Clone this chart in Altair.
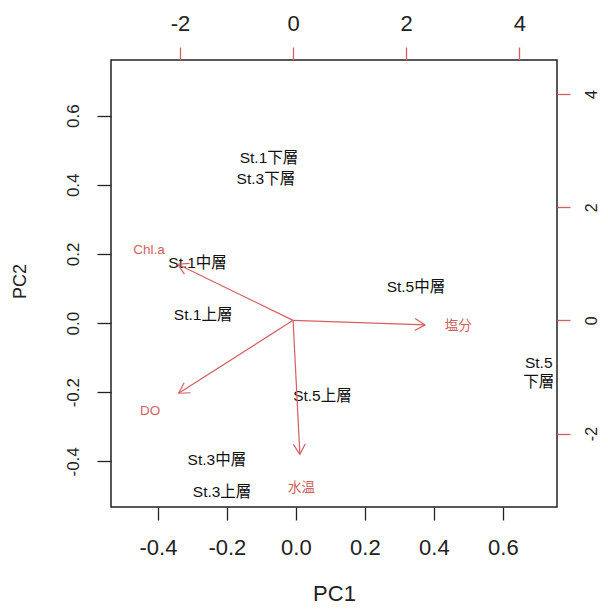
import altair as alt
import pandas as pd
import numpy as np

# ---- observation scores (PC1, PC2) ----
obs_labels = ["St.1下層", "St.3下層", "St.1中層", "St.1上層", "St.5中層",
              "St.5上層", "St.5\n下層", "St.3中層", "St.3上層"]
obs_pc1 = [-0.078, -0.087, -0.285, -0.269, 0.348, 0.077, 0.704, -0.229, -0.214]
obs_pc2 = [0.477, 0.416, 0.174, 0.022, 0.104, -0.210, -0.115, -0.396, -0.490]

# ---- variable loadings (secondary axes) ----
var_labels = ["Chl.a", "塩分", "DO", "水温"]
var_x = [-2.55, 2.92, -2.53, 0.15]
var_y = [1.24, -0.10, -1.61, -2.96]

pc_ticks = [-0.4, -0.2, 0.0, 0.2, 0.4, 0.6]
var_ticks = [-2, 0, 2, 4]

pc1_domain = [-0.536, 0.757]
pc2_domain = [-0.532, 0.761]
v1_domain = [-3.22, 4.667]
v2_domain = [-3.298, 4.601]

RED = "#d45f5f"
INK = "#222222"
LAT = "Liberation Sans"
TXT = "Liberation Sans, Noto Sans CJK JP"

obs_df = pd.DataFrame({"label": obs_labels, "pc1": obs_pc1, "pc2": obs_pc2})

# arrows: shafts to 0.8 * loading, heads as two short segments
arrow_frac = 0.8
head_len = 0.21
head_ang = np.deg2rad(30)
segs = []
for vx, vy in zip(var_x, var_y):
    tx, ty = arrow_frac * vx, arrow_frac * vy
    segs.append({"x0": 0.0, "y0": 0.0, "x1": tx, "y1": ty})
    ang = np.arctan2(ty, tx)
    for s in (1, -1):
        a = ang + np.pi + s * head_ang
        segs.append({"x0": tx, "y0": ty,
                     "x1": tx + head_len * np.cos(a), "y1": ty + head_len * np.sin(a)})
seg_df = pd.DataFrame(segs)
var_df = pd.DataFrame({"label": var_labels, "x0": var_x, "y0": var_y})

pc_fmt = "datum.value < 0 ? '-' + format(-datum.value, '.1f') : format(datum.value, '.1f')"
v_fmt = "datum.value < 0 ? '-' + format(-datum.value, 'd') : format(datum.value, 'd')"

x_pc = alt.X("pc1:Q",
             scale=alt.Scale(domain=pc1_domain, nice=False, zero=False),
             axis=alt.Axis(orient="bottom", values=pc_ticks, labelExpr=pc_fmt,
                           title="PC1", titleFontSize=22, titleFont=LAT, titleFontWeight="normal",
                           titleColor=INK, titleX=223, titleY=86, titleBaseline="middle",
                           titleAnchor="middle",
                           labelFontSize=22, labelFont=LAT, labelColor=INK,
                           labelBaseline="top", labelAlign="center", labelPadding=17,
                           labelOverlap=False, labelFlush=False,
                           tickSize=13, tickColor=INK, tickWidth=1.3,
                           domain=False, grid=False))
y_pc = alt.Y("pc2:Q",
             scale=alt.Scale(domain=pc2_domain, nice=False, zero=False),
             axis=alt.Axis(orient="left", values=pc_ticks, labelExpr=pc_fmt,
                           title="PC2", titleFontSize=18, titleFont=LAT, titleFontWeight="normal",
                           titleColor=INK, titleAngle=270, titleX=-91, titleY=221,
                           titleBaseline="middle", titleAnchor="middle",
                           labelFontSize=17, labelFont=LAT, labelColor=INK,
                           labelAngle=270, labelAlign="center", labelBaseline="bottom",
                           labelPadding=15, labelOverlap=False, labelFlush=False,
                           tickSize=14, tickColor=INK, tickWidth=1.3,
                           domain=False, grid=False))

points = alt.Chart(obs_df).mark_text(
    fontSize=15.5, font=TXT, color="#111111", lineBreak="\n", lineHeight=19,
    align="center", baseline="middle"
).encode(x=x_pc, y=y_pc, text="label:N")

x_v = alt.X("x0:Q",
            scale=alt.Scale(domain=v1_domain, nice=False, zero=False),
            axis=alt.Axis(orient="top", values=var_ticks, labelExpr=v_fmt, title=None,
                          labelFontSize=22, labelFont=LAT, labelColor=INK,
                          labelBaseline="bottom", labelAlign="center", labelPadding=12,
                          labelOverlap=False, labelFlush=False,
                          tickSize=13, tickColor=RED, tickWidth=1.3,
                          domain=False, grid=False))
y_v = alt.Y("y0:Q",
            scale=alt.Scale(domain=v2_domain, nice=False, zero=False),
            axis=alt.Axis(orient="right", values=var_ticks, labelExpr=v_fmt, title=None,
                          labelFontSize=16, labelFont=LAT, labelColor=INK,
                          labelAngle=270, labelAlign="center", labelBaseline="top",
                          labelPadding=13, labelOverlap=False, labelFlush=False,
                          tickSize=13, tickColor=RED, tickWidth=1.3,
                          domain=False, grid=False))

arrows = alt.Chart(seg_df).mark_rule(color=RED, strokeWidth=1.2).encode(
    x=x_v, y=y_v, x2="x1:Q", y2="y1:Q")
var_text = alt.Chart(var_df).mark_text(
    fontSize=13.5, font=TXT, color=RED, align="center", baseline="middle"
).encode(x=x_v, y=y_v, text="label:N")

secondary = alt.layer(arrows, var_text)

chart = alt.layer(points, secondary).resolve_scale(
    x="independent", y="independent"
).properties(
    width=446, height=447,
    autosize=alt.AutoSizeParams(type="none"),
    padding={"left": 103, "top": 52, "right": 43, "bottom": 101},
    background="white"
).configure_view(stroke=INK, strokeWidth=1.5)

chart.save("out.html", embed_options={"renderer": "svg", "actions": False})
